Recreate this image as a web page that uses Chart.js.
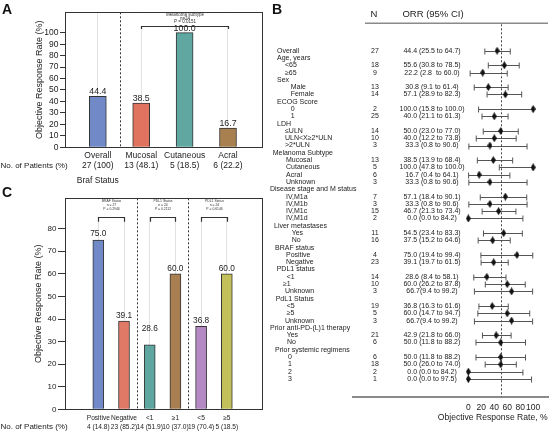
<!DOCTYPE html>
<html><head><meta charset="utf-8">
<script src="https://cdn.jsdelivr.net/npm/chart.js@4.4.1/dist/chart.umd.min.js"></script>
<style>
html,body{margin:0;padding:0;background:#fff;}
body{width:553px;height:434px;overflow:hidden;position:relative;}
canvas{position:absolute;}
</style></head><body>
<canvas id="ca" width="268" height="186" style="left:0;top:0"></canvas>
<canvas id="cc" width="268" height="248" style="left:0;top:186px"></canvas>
<canvas id="cb" width="285" height="434" style="left:268px;top:0"></canvas>
<script>
// ---------- Panel A data ----------
const aCategories = ['Overall', 'Mucosal', 'Cutaneous', 'Acral'];
const aPatients = ['27 (100)', '13 (48.1)', '5 (18.5)', '6 (22.2)'];
const aORR = [44.4, 38.5, 100.0, 16.7];
const aTicks = [0, 10, 20, 30, 40, 50, 60, 70, 80, 90, 100];
const aTests = [{ name: 'Melanoma subtype', n: 'n=24', p: 'P = 0.0151', from: 1, to: 3 }];

// ---------- Panel C data ----------
const cCategories = ['Positive', 'Negative', '<1', '≥1', '<5', '≥5'];
const cPatients = ['4 (14.8)', '23 (85.2)', '14 (51.9)', '10 (37.0)', '19 (70.4)', '5 (18.5)'];
const cORR = [75.0, 39.1, 28.6, 60.0, 36.8, 60.0];
const cTicks = [0, 10, 20, 30, 40, 50, 60, 70, 80];
const cTests = [
  { name: 'BRAF Status', n: 'n = 27', p: 'P = 0.2946', from: 0, to: 1 },
  { name: 'PDL1 Status', n: 'n = 24', p: 'P = 0.2112', from: 2, to: 3 },
  { name: 'PDL1 Status', n: 'n = 24', p: 'P = 0.6146', from: 4, to: 5 }
];

// ---------- Panel B data ----------
const fLabels = ['Overall','Age, years','<65','≥65','Sex','Male','Female','ECOG Score','0','1','LDH','≤ULN','ULN<X≥2*ULN','>2*ULN','Melanoma Subtype','Mucosal','Cutaneous','Acral','Unknown','Disease stage and M status','IV,M1a','IV,M1b','IV,M1c','IV,M1d','Liver metastases','Yes','No','BRAF status','Positive','Negative','PDL1 status','<1','≥1','Unknown','PdL1 Status','<5','≥5','Unknown','Prior anti-PD-(L)1 therapy','Yes','No','Prior systemic regimens','0','1','2','3'];
const fN = [27,null,18,9,null,13,14,null,2,25,null,14,10,3,null,13,5,6,3,null,7,3,15,2,null,11,16,null,4,23,null,14,10,3,null,19,5,3,null,21,6,null,6,18,2,1];
const fORR = [44.4,null,55.6,22.2,null,30.8,57.1,null,100.0,40.0,null,50.0,40.0,33.3,null,38.5,100.0,16.7,33.3,null,57.1,33.3,46.7,0.0,null,54.5,37.5,null,75.0,39.1,null,28.6,60.0,66.7,null,36.8,60.0,66.7,null,42.9,50.0,null,50.0,50.0,0.0,0.0];
const fLo = [25.5,null,30.8,2.8,null,9.1,28.9,null,15.8,21.1,null,23.0,12.2,0.8,null,13.9,47.8,0.4,0.8,null,18.4,0.8,21.3,0.0,null,23.4,15.2,null,19.4,19.7,null,8.4,26.2,9.4,null,16.3,14.7,9.4,null,21.8,11.8,null,11.8,26.0,0.0,0.0];
const fHi = [64.7,null,78.5,60.0,null,61.4,82.3,null,100.0,61.3,null,77.0,73.8,90.6,null,68.4,100.0,64.1,90.6,null,90.1,90.6,73.4,84.2,null,83.3,64.6,null,99.4,61.5,null,58.1,87.8,99.2,null,61.6,94.7,99.2,null,66.0,88.2,null,88.2,74.0,84.2,97.5];
const fCI = ['44.4 (25.5 to 64.7)','','55.6 (30.8 to 78.5)','22.2 (2.8  to 60.0)','','30.8 (9.1 to 61.4)','57.1 (28.9 to 82.3)','','100.0 (15.8 to 100.0)','40.0 (21.1 to 61.3)','','50.0 (23.0 to 77.0)','40.0 (12.2 to 73.8)','33.3 (0.8 to 90.6)','','38.5 (13.9 to 68.4)','100.0 (47.8 to 100.0)','16.7 (0.4 to 64.1)','33.3 (0.8 to 90.6)','','57.1 (18.4 to 90.1)','33.3 (0.8 to 90.6)','46.7 (21.3 to 73.4)','0.0 (0.0 to 84.2)','','54.5 (23.4 to 83.3)','37.5 (15.2 to 64.6)','','75.0 (19.4 to 99.4)','39.1 (19.7 to 61.5)','','28.6 (8.4 to 58.1)','60.0 (26.2 to 87.8)','66.7(9.4 to 99.2)','','36.8 (16.3 to 61.6)','60.0 (14.7 to 94.7)','66.7(9.4 to 99.2)','','42.9 (21.8 to 66.0)','50.0 (11.8 to 88.2)','','50.0 (11.8 to 88.2)','50.0 (26.0 to 74.0)','0.0 (0.0 to 84.2)','0.0 (0.0 to 97.5)'];
const fTicks = [0, 20, 40, 60, 80, 100];
const fRef = 50;

// ---------- styles ----------
const FONT = "'Liberation Sans', Arial, Helvetica, sans-serif";
Chart.defaults.font.family = FONT;
Chart.defaults.color = '#222';
const aColors = ['#7189c6', '#e0735f', '#5fa7a0', '#a8804f'];
const cColors = ['#7189c6', '#e07a66', '#5fa5a0', '#a97e50', '#b589c4', '#c2c05a'];
const cLabelLift = [6.5, 5, 16, 5.5, 5.3, 5.5];
// label x (absolute page px) per forest row
const fLabelX = [277,277,285,285,277,290.7,290.7,277,290.7,290.7,277,285,285,285,272.7,286,286,286,286,270,286,286,286,286,274,291.7,291.7,275,286,286,276.7,286.7,283,285,275.7,286.7,286.7,285,270,286.7,287,275,288,288,288,288];

function font(size, bold) { return (bold ? 'bold ' : '') + size + 'px ' + FONT; }

function barPlugin(o) {
  return {
    id: 'bp' + o.id,
    beforeDatasetsDraw(chart) {
      const { ctx, chartArea: a, scales: { x, y } } = chart;
      ctx.save();
      o.tests.forEach(t => {
        const x0 = x.getPixelForValue(t.from) - 2, x1 = x.getPixelForValue(t.to) + 2;
        ctx.fillStyle = '#fff';
        ctx.fillRect(x0, a.top + 1, x1 - x0, y.getPixelForValue(o.bracket) - a.top - 1);
      });
      ctx.strokeStyle = '#333'; ctx.lineWidth = 1; ctx.setLineDash([2, 2]);
      o.separators.forEach(v => {
        const px = Math.round(x.getPixelForValue(v)) + 0.5;
        ctx.beginPath(); ctx.moveTo(px, a.top); ctx.lineTo(px, a.bottom); ctx.stroke();
      });
      ctx.restore();
    },
    afterDatasetsDraw(chart) {
      const { ctx, chartArea: a, scales: { x, y } } = chart;
      ctx.save();
      ctx.fillStyle = '#222'; ctx.textAlign = 'center'; ctx.textBaseline = 'middle';
      ctx.font = font(o.labelSize);
      o.values.forEach((v, i) => {
        ctx.fillText(v.toFixed(1), x.getPixelForValue(i), y.getPixelForValue(v) - o.lift[i]);
      });
      o.tests.forEach(t => {
        const x0 = Math.round(x.getPixelForValue(t.from)) + 0.5, x1 = Math.round(x.getPixelForValue(t.to)) + 0.5;
        const yb = Math.round(y.getPixelForValue(o.bracket)) + 0.5, yt = y.getPixelForValue(o.bracketEnd);
        ctx.strokeStyle = '#333'; ctx.lineWidth = 1.2;
        ctx.beginPath(); ctx.moveTo(x0, yt); ctx.lineTo(x0, yb); ctx.lineTo(x1, yb); ctx.lineTo(x1, yt); ctx.stroke();
        const cx = (x0 + x1) / 2;
        ctx.font = font(o.testSize); ctx.fillStyle = '#333';
        [t.name, t.n, t.p].forEach((s, k) => ctx.fillText(s, cx, y.getPixelForValue(o.textRows[k])));
      });
      ctx.restore();
    },
    afterDraw(chart) {
      const { ctx, chartArea: a, scales: { x } } = chart;
      ctx.save();
      ctx.strokeStyle = '#333'; ctx.lineWidth = 1;
      ctx.strokeRect(Math.round(a.left) + 0.5, Math.round(a.top) + 0.5, Math.round(a.right - a.left), Math.round(a.bottom - a.top));
      ctx.fillStyle = '#111'; ctx.textAlign = 'left'; ctx.textBaseline = 'alphabetic';
      ctx.font = font(14, true);
      ctx.fillText(o.letter, 2, o.letterY);
      ctx.fillStyle = '#222'; ctx.textBaseline = 'middle';
      ctx.font = font(8);
      ctx.fillText('No. of Patients (%)', 0.5, o.patientsY);
      if (o.subtitle) {
        ctx.textAlign = 'center'; ctx.font = font(8.5);
        ctx.fillText(o.subtitle, x.getPixelForValue(0), o.subtitleY);
      }
      ctx.restore();
    }
  };
}

// ---------- Panel A ----------
new Chart(document.getElementById('ca'), {
  type: 'bar',
  data: { datasets: [{ data: aORR.map((v, i) => ({ x: i, y: v })), backgroundColor: aColors, borderColor: '#333', borderWidth: 1, barThickness: 17 }] },
  options: {
    responsive: false, animation: false,
    layout: { padding: { left: 0, right: 6.5, top: 12.3, bottom: 0 } },
    plugins: { legend: { display: false }, tooltip: { enabled: false } },
    scales: {
      x: {
        type: 'linear', min: -0.756, max: 3.772, offset: false,
        afterBuildTicks: s => { s.ticks = aCategories.map((_, i) => ({ value: i })); },
        ticks: { callback: v => [aCategories[v], aPatients[v]], font: { size: 8.5, lineHeight: 1.15 }, color: '#222', padding: 3.8, maxRotation: 0, autoSkip: false },
        grid: { color: '#e2e2e2', drawTicks: false, offset: false },
        border: { display: false },
        afterFit: s => { s.height = 186 - 147.3; s.paddingLeft = 0; s.paddingRight = 0; }
      },
      y: {
        min: 0, max: 117.8,
        afterBuildTicks: s => { s.ticks = aTicks.map(v => ({ value: v })); },
        ticks: { font: { size: 8.5 }, color: '#222', padding: 1.5 },
        grid: { drawOnChartArea: false, tickLength: 5, color: '#333' },
        border: { display: false },
        title: { display: true, text: 'Objective Response Rate (%)', font: { size: 9 }, color: '#222', padding: { top: 33.9, bottom: 0 } },
        afterFit: s => { s.width = 65; }
      }
    }
  },
  plugins: [barPlugin({
    id: 'A', values: aORR, tests: aTests, separators: [0.5], lift: [5, 4.5, 4.5, 5], labelSize: 8.8,
    bracket: 106.1, bracketEnd: 103.2, textRows: [115.6, 112.4, 109.2], testSize: 4.5,
    letter: 'A', letterY: 14, patientsY: 165.7, subtitle: 'Braf Status', subtitleY: 180.7
  })]
});

// ---------- Panel C ----------
new Chart(document.getElementById('cc'), {
  type: 'bar',
  data: { datasets: [{ data: cORR.map((v, i) => ({ x: i, y: v })), backgroundColor: cColors, borderColor: '#333', borderWidth: 1, barThickness: 11 }] },
  options: {
    responsive: false, animation: false,
    layout: { padding: { left: 0, right: 6.5, top: 12.3, bottom: 0 } },
    plugins: { legend: { display: false }, tooltip: { enabled: false } },
    scales: {
      x: {
        type: 'linear', min: -1.296, max: 6.35, offset: false,
        afterBuildTicks: s => { s.ticks = cCategories.map((_, i) => ({ value: i })); },
        ticks: { callback: v => [cCategories[v], cPatients[v]], font: { size: 6.6, lineHeight: 1.28 }, color: '#222', padding: 4.8, maxRotation: 0, autoSkip: false },
        grid: { color: '#e2e2e2', drawTicks: false, offset: false },
        border: { display: false },
        afterFit: s => { s.height = 248 - 223.3; s.paddingLeft = 0; s.paddingRight = 0; }
      },
      y: {
        min: 0, max: 93.47,
        afterBuildTicks: s => { s.ticks = cTicks.map(v => ({ value: v })); },
        ticks: { font: { size: 8 }, color: '#222', padding: 1.5 },
        grid: { drawOnChartArea: false, tickLength: 7, color: '#333' },
        border: { display: false },
        title: { display: true, text: 'Objective Response Rate (%)', font: { size: 9 }, color: '#222', padding: { top: 32.9, bottom: 0 } },
        afterFit: s => { s.width = 65; }
      }
    }
  },
  plugins: [barPlugin({
    id: 'C', values: cORR, tests: cTests, separators: [1.5, 3.5], lift: cLabelLift, labelSize: 8.3,
    bracket: 85.3, bracketEnd: 83.1, textRows: [92.4, 90.5, 88.7], testSize: 3.4,
    letter: 'C', letterY: 11, patientsY: 426.7 - 186
  })]
});

// ---------- Panel B (forest) ----------
const diamond = document.createElement('canvas');
diamond.width = 5; diamond.height = 8;
(() => {
  const g = diamond.getContext('2d');
  g.fillStyle = '#111';
  g.beginPath(); g.moveTo(2.5, 0); g.lineTo(5, 4); g.lineTo(2.5, 8); g.lineTo(0, 4); g.closePath(); g.fill();
})();

const forestPlugin = {
  id: 'forest',
  beforeDatasetsDraw(chart) {
    const { ctx, chartArea: a, scales: { x, y } } = chart;
    ctx.save();
    ctx.strokeStyle = '#8a8a8a'; ctx.lineWidth = 1.5;
    ctx.beginPath(); ctx.moveTo(97, a.top); ctx.lineTo(a.right, a.top); ctx.stroke();
    ctx.strokeStyle = '#444'; ctx.lineWidth = 1; ctx.setLineDash([2, 2]);
    const rx = Math.round(x.getPixelForValue(fRef)) + 0.5;
    ctx.beginPath(); ctx.moveTo(rx, a.top + 1); ctx.lineTo(rx, a.bottom); ctx.stroke();
    ctx.setLineDash([]);
    ctx.strokeStyle = '#555'; ctx.lineWidth = 1;
    fLo.forEach((lo, i) => {
      if (lo == null) return;
      const yy = Math.round(y.getPixelForValue(i + 1)) + 0.5;
      const x0 = x.getPixelForValue(lo), x1 = x.getPixelForValue(fHi[i]);
      ctx.beginPath();
      ctx.moveTo(x0, yy); ctx.lineTo(x1, yy);
      ctx.moveTo(x0, yy - 3); ctx.lineTo(x0, yy + 3);
      ctx.moveTo(x1, yy - 3); ctx.lineTo(x1, yy + 3);
      ctx.stroke();
    });
    ctx.restore();
  },
  afterDraw(chart) {
    const { ctx, chartArea: a, scales: { x, y } } = chart;
    ctx.save();
    ctx.fillStyle = '#111'; ctx.textBaseline = 'alphabetic'; ctx.textAlign = 'left';
    ctx.font = font(14, true);
    ctx.fillText('B', 4, 14);
    ctx.fillStyle = '#222'; ctx.textBaseline = 'middle';
    ctx.font = font(9.5); ctx.textAlign = 'center';
    ctx.fillText('N', 106, 14);
    ctx.fillText('ORR (95% CI)', 165, 14);
    ctx.font = font(7);
    fLabels.forEach((lab, i) => {
      const yy = y.getPixelForValue(i + 1);
      ctx.textAlign = 'left';
      ctx.fillText(lab, fLabelX[i] - 268, yy);
      ctx.textAlign = 'center';
      if (fN[i] != null) ctx.fillText(String(fN[i]), 107, yy);
      if (fCI[i]) ctx.fillText(fCI[i], 164, yy);
    });
    ctx.font = font(8.6); ctx.textAlign = 'center';
    ctx.fillText('Objective Response Rate, %', 224.7, 417.7);
    ctx.restore();
  }
};

new Chart(document.getElementById('cb'), {
  type: 'scatter',
  data: { datasets: [{
    data: fORR.map((v, i) => v == null ? null : { x: v, y: i + 1 }).filter(Boolean),
    pointStyle: diamond, pointRadius: 4, backgroundColor: '#111', borderColor: '#111', clip: false
  }] },
  options: {
    responsive: false, animation: false,
    layout: { padding: { left: 85, right: 0, top: 23.3, bottom: 0 } },
    plugins: { legend: { display: false }, tooltip: { enabled: false } },
    scales: {
      x: {
        type: 'linear', min: -177.9, max: 122.9,
        afterBuildTicks: s => { s.ticks = fTicks.map(v => ({ value: v })); },
        ticks: { font: { size: 8.5 }, color: '#222', padding: 6.2, autoSkip: false, maxRotation: 0 },
        grid: { display: false, drawTicks: false },
        border: { display: true, color: '#8a8a8a', width: 2 },
        afterFit: s => { s.height = 434 - 396.7; }
      },
      y: { type: 'linear', reverse: true, min: -2.755, max: 48.43, display: false }
    }
  },
  plugins: [forestPlugin]
});
</script>
</body></html>
